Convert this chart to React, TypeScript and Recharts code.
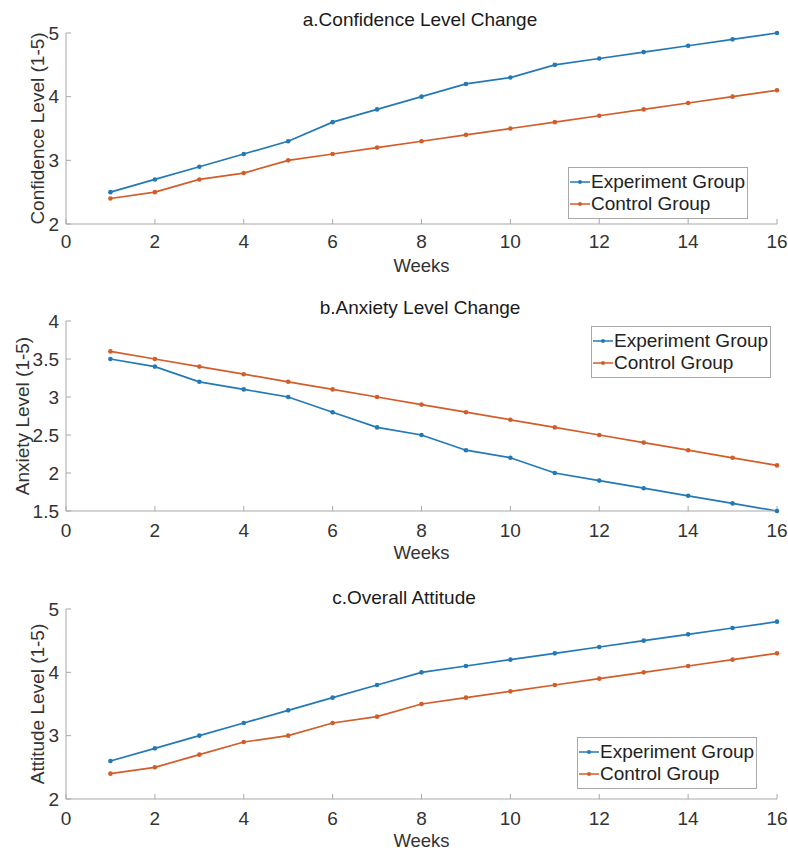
import React from 'react';
import { LineChart, Line, XAxis, YAxis, Legend, Label } from 'recharts';

const weeks = [1, 2, 3, 4, 5, 6, 7, 8, 9, 10, 11, 12, 13, 14, 15, 16];
const weekTicks = [0, 2, 4, 6, 8, 10, 12, 14, 16];

const confidenceExperiment = [2.5, 2.7, 2.9, 3.1, 3.3, 3.6, 3.8, 4.0, 4.2, 4.3, 4.5, 4.6, 4.7, 4.8, 4.9, 5.0];
const confidenceControl = [2.4, 2.5, 2.7, 2.8, 3.0, 3.1, 3.2, 3.3, 3.4, 3.5, 3.6, 3.7, 3.8, 3.9, 4.0, 4.1];

const anxietyExperiment = [3.5, 3.4, 3.2, 3.1, 3.0, 2.8, 2.6, 2.5, 2.3, 2.2, 2.0, 1.9, 1.8, 1.7, 1.6, 1.5];
const anxietyControl = [3.6, 3.5, 3.4, 3.3, 3.2, 3.1, 3.0, 2.9, 2.8, 2.7, 2.6, 2.5, 2.4, 2.3, 2.2, 2.1];

const attitudeExperiment = [2.6, 2.8, 3.0, 3.2, 3.4, 3.6, 3.8, 4.0, 4.1, 4.2, 4.3, 4.4, 4.5, 4.6, 4.7, 4.8];
const attitudeControl = [2.4, 2.5, 2.7, 2.9, 3.0, 3.2, 3.3, 3.5, 3.6, 3.7, 3.8, 3.9, 4.0, 4.1, 4.2, 4.3];

const levelTicks = [2, 3, 4, 5];
const anxietyTicks = [1.5, 2, 2.5, 3, 3.5, 4];

const BLUE = '#2379b5';
const ORANGE = '#d35d2a';
const AXIS = '#a8a8a8';
const FONT = '"Liberation Sans", Arial, Helvetica, sans-serif';

function LegendBox() {
  const rows = [
    { name: 'Experiment Group', color: BLUE },
    { name: 'Control Group', color: ORANGE },
  ];
  return (
    <div
      style={{
        width: 178,
        height: 47,
        border: `1px solid ${AXIS}`,
        background: '#fff',
        boxSizing: 'content-box',
        paddingTop: 3,
        fontFamily: FONT,
        fontSize: 19,
        color: '#222',
      }}
    >
      {rows.map((r) => (
        <div key={r.name} style={{ display: 'flex', alignItems: 'center', height: 22 }}>
          <svg width={20} height={10} style={{ marginLeft: 1, marginRight: 1 }}>
            <line x1={0} y1={5} x2={20} y2={5} stroke={r.color} strokeWidth={1.5} />
            <circle cx={10} cy={5} r={2} fill={r.color} />
          </svg>
          <span style={{ whiteSpace: 'nowrap' }}>{r.name}</span>
        </div>
      ))}
    </div>
  );
}

interface PanelProps {
  height: number;
  marginTop: number;
  plotHeight: number;
  title: string;
  titleX: number;
  titleTop: number;
  yLabel: string;
  yLabelX: number;
  yDomain: [number, number];
  yTicks: number[];
  experiment: number[];
  control: number[];
  legendLeft: number;
  legendTop: number;
  xTickMargin: number;
}

function Panel(p: PanelProps) {
  const rows = weeks.map((w, i) => ({ week: w, experiment: p.experiment[i], control: p.control[i] }));
  const xAxisHeight = p.height - p.marginTop - p.plotHeight;
  const tickStyle = { fill: '#333', fontSize: 19, fontFamily: FONT };

  return (
    <div style={{ position: 'relative', width: 788, height: p.height }}>
      <LineChart
        width={788}
        height={p.height}
        data={rows}
        margin={{ top: p.marginTop, right: 11, bottom: 0, left: 0 }}
      >
        <XAxis
          dataKey="week"
          type="number"
          domain={[0, 16]}
          ticks={weekTicks}
          interval={0}
          height={xAxisHeight}
          axisLine={{ stroke: AXIS }}
          tickLine={{ stroke: AXIS }}
          tickSize={-5}
          tickMargin={p.xTickMargin}
          tick={tickStyle}
        >
          <Label
            content={({ viewBox }: any) => (
              <text
                x={viewBox.x + viewBox.width / 2}
                y={viewBox.y + 48}
                textAnchor="middle"
                fill="#333"
                fontSize={18.5}
                fontFamily={FONT}
              >
                Weeks
              </text>
            )}
          />
        </XAxis>
        <YAxis
          type="number"
          domain={p.yDomain}
          ticks={p.yTicks}
          interval={0}
          width={66}
          axisLine={{ stroke: AXIS }}
          tickLine={{ stroke: AXIS }}
          tickSize={-5}
          tickMargin={12}
          tick={tickStyle}
        >
          <Label
            content={({ viewBox }: any) => {
              const cy = viewBox.y + viewBox.height / 2;
              return (
                <text
                  x={p.yLabelX}
                  y={cy}
                  transform={`rotate(-90 ${p.yLabelX} ${cy})`}
                  textAnchor="middle"
                  dominantBaseline="central"
                  fill="#333"
                  fontSize={19}
                  fontFamily={FONT}
                >
                  {p.yLabel}
                </text>
              );
            }}
          />
        </YAxis>
        <Legend
          layout="horizontal"
          verticalAlign="middle"
          align="center"
          content={() => <LegendBox />}
          wrapperStyle={{ position: 'absolute', left: p.legendLeft, top: p.legendTop, width: 'auto' }}
        />
        <Line
          dataKey="experiment"
          name="Experiment Group"
          stroke={BLUE}
          strokeWidth={1.7}
          dot={{ r: 2.3, fill: BLUE, stroke: BLUE, strokeWidth: 0 }}
          activeDot={false}
          isAnimationActive={false}
        />
        <Line
          dataKey="control"
          name="Control Group"
          stroke={ORANGE}
          strokeWidth={1.7}
          dot={{ r: 2.3, fill: ORANGE, stroke: ORANGE, strokeWidth: 0 }}
          activeDot={false}
          isAnimationActive={false}
        />
      </LineChart>
      <div
        style={{
          position: 'absolute',
          left: p.titleX,
          top: p.titleTop,
          transform: 'translateX(-50%)',
          whiteSpace: 'nowrap',
          fontFamily: FONT,
          fontSize: 19,
          lineHeight: '19px',
          color: '#1a1a1a',
        }}
      >
        {p.title}
      </div>
    </div>
  );
}

export default function App() {
  return (
    <div style={{ position: 'absolute', left: 0, top: 0, width: 788, height: 852, background: '#fff' }}>
      <Panel
        height={282}
        marginTop={33}
        plotHeight={191}
        title="a.Confidence Level Change"
        titleX={420}
        titleTop={10}
        yLabel="Confidence Level (1-5)"
        yLabelX={37}
        yDomain={[2, 5]}
        yTicks={levelTicks}
        experiment={confidenceExperiment}
        control={confidenceControl}
        legendLeft={568}
        legendTop={167}
        xTickMargin={16}
      />
      <Panel
        height={288}
        marginTop={39}
        plotHeight={190}
        title="b.Anxiety Level Change"
        titleX={420}
        titleTop={16}
        yLabel="Anxiety Level (1-5)"
        yLabelX={22}
        yDomain={[1.5, 4]}
        yTicks={anxietyTicks}
        experiment={anxietyExperiment}
        control={anxietyControl}
        legendLeft={591}
        legendTop={44}
        xTickMargin={18}
      />
      <Panel
        height={282}
        marginTop={39}
        plotHeight={190}
        title="c.Overall Attitude"
        titleX={404}
        titleTop={18}
        yLabel="Attitude Level (1-5)"
        yLabelX={37}
        yDomain={[2, 5]}
        yTicks={levelTicks}
        experiment={attitudeExperiment}
        control={attitudeControl}
        legendLeft={577}
        legendTop={167}
        xTickMargin={18}
      />
    </div>
  );
}
